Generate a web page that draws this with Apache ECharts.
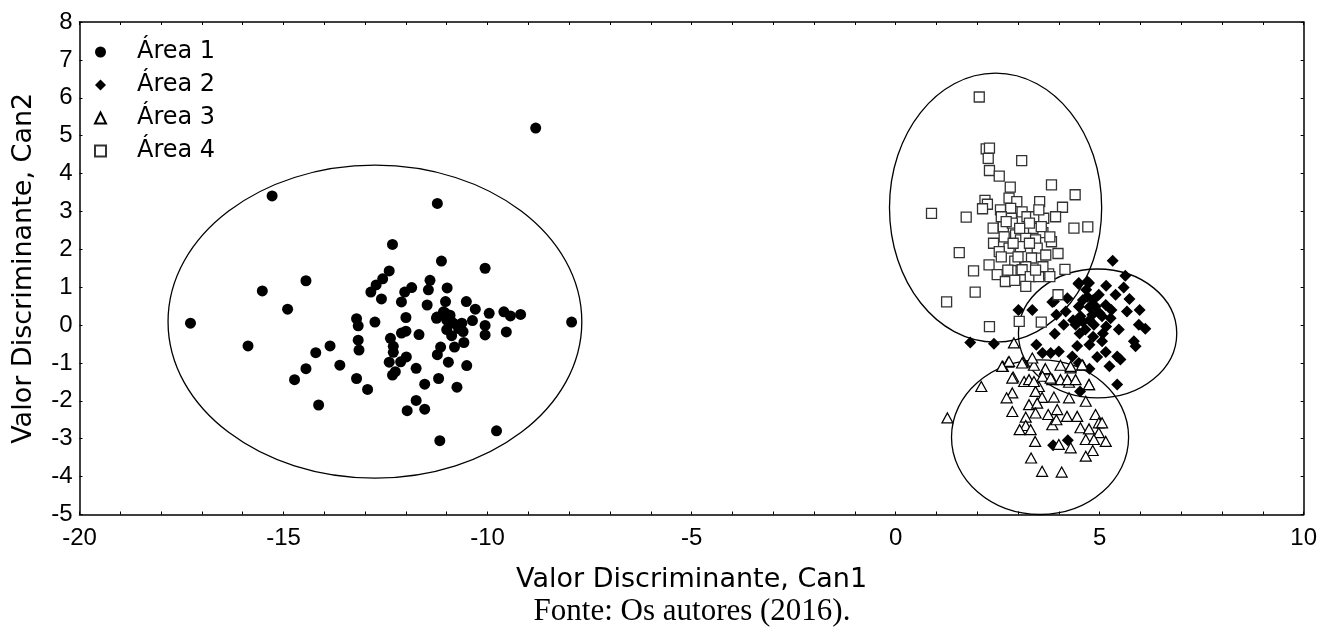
<!DOCTYPE html>
<html>
<head>
<meta charset="utf-8">
<script src="https://cdn.jsdelivr.net/npm/echarts@6/dist/echarts.min.js"></script>
<style>
html,body{margin:0;padding:0;background:#fff;}
#chart{width:1320px;height:631px;}
</style>
</head>
<body>
<div id="chart"></div>
<script>
// ---- Data ----
const seriesNames = ['Área 1', 'Área 2', 'Área 3', 'Área 4'];

const area1 = [
  [-15.28,3.41],[-11.23,3.21],[-12.33,2.13],[-11.13,1.69],[-10.06,1.50],[-14.45,1.17],[-15.52,0.90],
  [-12.41,1.43],[-12.57,1.22],[-12.73,1.06],[-12.86,0.87],[-12.60,0.69],[-11.41,1.18],[-11.45,0.93],
  [-10.99,0.98],[-11.86,0.99],[-12.03,0.87],[-12.11,0.61],[-11.48,0.53],[-11.03,0.62],[-10.52,0.62],
  [-10.30,0.42],[-9.96,0.31],[-9.60,0.35],[-9.44,0.24],[-9.19,0.28],[-7.94,0.08],[-17.28,0.05],
  [-14.90,0.42],[-15.87,-0.55],[-13.21,0.17],[-13.17,-0.02],[-12.76,0.08],[-12.00,0.20],[-11.25,0.18],
  [-11.04,0.32],[-10.92,0.16],[-11.00,-0.12],[-10.88,-0.28],[-10.68,-0.04],[-10.60,-0.17],[-10.37,0.12],
  [-10.06,-0.01],[-10.06,-0.26],[-9.54,-0.18],[-12.11,-0.21],[-12.00,-0.16],[-11.68,-0.25],[-13.17,-0.40],
  [-13.15,-0.66],[-12.38,-0.35],[-12.31,-0.56],[-12.31,-0.72],[-12.41,-0.98],[-12.13,-0.97],[-11.99,-0.84],
  [-11.75,-1.14],[-12.33,-1.32],[-12.26,-1.23],[-11.23,-0.78],[-11.15,-0.58],[-10.81,-0.58],[-10.58,-0.46],
  [-10.96,-0.98],[-10.51,-1.07],[-11.20,-1.41],[-11.54,-1.56],[-10.75,-1.64],[-13.86,-0.55],[-14.21,-0.73],
  [-13.62,-1.06],[-14.45,-1.15],[-14.73,-1.44],[-13.21,-1.41],[-12.94,-1.70],[-14.14,-2.11],[-11.75,-1.99],
  [-11.97,-2.26],[-11.54,-2.22],[-9.78,-2.79],[-11.17,-3.05],[-8.82,5.20],
  [-11.24,0.21],[-11.08,0.35],[-11.00,0.13],[-10.92,0.26],[-10.84,0.05],[-10.71,-0.09],[-10.63,0.05]
];

const area2 = [
  [5.32,1.70],[5.63,1.30],[4.48,1.09],[4.70,1.15],[5.16,1.04],[5.59,0.99],[4.70,0.75],[4.98,0.80],
  [5.39,0.80],[5.73,0.69],[3.84,0.61],[4.21,0.71],[4.49,0.49],[4.90,0.49],[5.15,0.53],[3.35,0.40],
  [3.01,0.40],[3.94,0.27],[4.17,0.36],[4.53,0.23],[4.82,0.27],[5.06,0.23],[5.27,0.18],[5.67,0.36],
  [5.98,0.40],[4.12,0.01],[4.41,0.01],[4.65,-0.12],[4.86,0.01],[5.47,-0.12],[5.96,0.01],[6.12,-0.10],
  [3.90,-0.23],[2.41,-0.49],[3.45,-0.52],[4.45,-0.55],[4.75,-0.52],[5.06,-0.43],[5.84,-0.43],[5.88,-0.56],
  [3.60,-0.74],[3.80,-0.74],[4.00,-0.70],[4.33,-0.83],[4.94,-0.84],[5.15,-0.71],[5.43,-0.83],[5.51,-0.91],
  [4.49,-1.00],[4.75,-1.15],[5.24,-1.09],[5.43,-1.57],
  [4.67,0.93],[4.59,0.66],[4.84,0.66],[4.75,0.48],[5.00,0.31],[4.35,0.13],[4.59,0.09],[4.75,0.13],
  [4.51,-0.22],[4.84,-0.31],[5.08,-0.22],[5.16,-0.04],[5.29,0.40],
  [3.88,0.62],[4.49,1.11],[4.74,1.11],[1.83,-0.46],[3.86,-3.17],[4.22,-3.04],[4.52,-1.75]
];

const area3 = [
  [2.90,-0.47],[1.27,-2.45],[2.10,-1.62],[2.63,-1.09],[2.76,-0.98],[3.12,-0.98],[3.39,-1.06],[3.66,-1.18],
  [4.04,-1.06],[4.29,-1.13],[4.59,-1.06],[2.88,-1.37],[3.15,-1.49],[3.27,-1.44],[2.86,-1.79],[2.72,-1.92],
  [3.51,-1.62],[3.43,-1.75],[3.84,-1.44],[4.04,-1.44],[4.25,-1.51],[4.74,-1.57],[3.59,-1.91],[3.88,-1.90],
  [4.25,-1.92],[4.66,-2.01],[3.27,-2.10],[3.47,-2.06],[2.86,-2.28],[3.43,-2.32],[3.74,-2.36],[3.96,-2.23],
  [4.20,-2.41],[4.45,-2.41],[3.19,-2.43],[4.90,-2.36],[4.98,-2.58],[5.06,-2.58],[3.84,-2.63],[3.94,-2.50],
  [3.19,-2.65],[3.04,-2.76],[3.31,-2.76],[4.53,-2.71],[4.74,-2.74],[4.98,-2.84],[3.42,-3.07],[4.00,-3.15],
  [4.29,-3.24],[4.66,-3.02],[4.86,-3.02],[5.15,-3.07],[4.83,-3.31],[4.66,-3.46],[3.32,-3.51],[3.59,-3.86],
  [4.07,-3.88],
  [2.78,-0.96],[2.61,-1.09],[3.10,-1.00],[3.35,-0.87],[3.67,-1.15],[4.29,-1.09],[4.57,-1.05],[4.74,-1.57],
  [2.86,-1.40],[3.39,-1.49],[3.60,-1.35],[3.80,-1.40],[4.21,-1.44],[4.41,-1.44]
];

const area4 = [
  [2.05,6.02],[2.22,4.65],[2.30,4.67],[2.27,4.40],[2.30,4.08],[2.54,3.93],[3.09,4.34],[2.81,3.64],
  [3.82,3.70],[4.40,3.44],[2.19,3.29],[2.25,3.19],[2.13,3.07],[2.78,3.35],[2.97,3.26],[3.53,3.26],
  [4.09,3.11],[0.88,2.95],[1.73,2.85],[2.57,3.04],[2.82,3.08],[2.84,2.82],[3.10,2.99],[3.22,2.86],
  [3.43,2.86],[3.63,2.82],[3.92,2.86],[3.51,3.04],[4.37,2.56],[4.71,2.59],[2.39,2.56],[2.64,2.60],
  [2.86,2.69],[3.38,2.55],[3.61,2.44],[2.66,2.33],[2.94,2.38],[3.06,2.25],[3.19,2.29],[3.43,2.25],
  [3.82,2.20],[2.40,2.16],[2.78,2.03],[2.54,1.94],[3.06,2.07],[3.47,2.03],[3.68,1.85],[3.98,1.89],
  [1.56,1.91],[2.92,1.69],[3.33,1.77],[3.19,1.54],[2.29,1.59],[1.91,1.43],[2.49,1.33],[2.83,1.44],
  [3.10,1.46],[3.30,1.28],[3.51,1.28],[3.75,1.35],[4.15,1.47],[2.69,1.15],[2.92,1.18],[3.19,1.02],
  [1.95,0.87],[1.25,0.61],[3.98,0.80],[2.30,-0.04],[3.03,0.10],[3.57,0.08],
  [2.59,2.86],[2.71,2.73],[3.28,2.69],[3.04,2.55],[3.57,2.60],[3.78,2.33],[3.28,2.16],[2.88,2.16],
  [2.59,1.80],[3.00,1.80],[3.61,1.54],[2.75,1.45],[3.43,1.45],[3.78,1.28]
];

// confidence ellipses: [centerX, centerY, radiusX, radiusY] in data units
const ellipses = [
  [-12.76, 0.09, 5.07, 4.13],
  [4.95, -0.22, 1.94, 1.70],
  [3.54, -2.96, 2.17, 2.04],
  [2.45, 3.10, 2.60, 3.55]
];

const xTitle = 'Valor Discriminante, Can1';
const yTitle = 'Valor Discriminante, Can2';
const caption = 'Fonte: Os autores (2016).';

// ---- Chart ----
const chart = echarts.init(document.getElementById('chart'), null, {renderer: 'canvas'});
const labelFont = {fontFamily: 'Liberation Sans', fontSize: 24, color: '#000'};
const lineStyle = {color: '#000', width: 1.5};

function axisCommon(extra) {
  return Object.assign({
    type: 'value',
    axisLine: {show: true, onZero: false, lineStyle: lineStyle},
    axisTick: {show: true, inside: true, length: 3, lineStyle: {color: '#000', width: 1}},
    minorTick: {show: true, splitNumber: 5, length: 3, lineStyle: {color: '#000', width: 1}},
    splitLine: {show: false},
    minorSplitLine: {show: false}
  }, extra);
}

const option = {
  animation: false,
  backgroundColor: '#fff',
  grid: {left: 79.5, right: 16, top: 22, bottom: 116.5, containLabel: false},
  xAxis: [
    axisCommon({
      min: -20, max: 10, interval: 5, position: 'bottom',
      axisLabel: Object.assign({margin: 12}, labelFont),
      name: xTitle, nameLocation: 'middle', nameGap: 52,
      nameTextStyle: {fontFamily: 'DejaVu Sans', fontSize: 27, color: '#000'}
    }),
    axisCommon({
      min: -20, max: 10, interval: 5, position: 'top',
      axisLabel: {show: false}
    })
  ],
  yAxis: [
    axisCommon({
      min: -5, max: 8, interval: 1, position: 'left',
      minorTick: {show: false},
      axisLabel: Object.assign({margin: 7}, labelFont),
      name: yTitle, nameLocation: 'middle', nameGap: 42,
      nameTextStyle: {fontFamily: 'DejaVu Sans', fontSize: 27, color: '#000'}
    }),
    axisCommon({
      min: -5, max: 8, interval: 1, position: 'right',
      minorTick: {show: false},
      axisLabel: {show: false}
    })
  ],
  legend: {
    orient: 'vertical', left: 89, top: 35,
    itemWidth: 11, itemHeight: 11, itemGap: 9,
    selectedMode: false,
    textStyle: {fontFamily: 'DejaVu Sans', fontSize: 24, color: '#000', lineHeight: 24, padding: [0, 0, 0, 26]},
    data: seriesNames
  },
  graphic: [{
    type: 'text', x: 692, y: 612,
    style: {text: caption, font: '31px "Liberation Serif"', fill: '#000', textAlign: 'center', textVerticalAlign: 'middle'}
  }],
  series: [
    {
      type: 'custom', name: 'ellipses', silent: true, clip: false,
      data: ellipses, encode: {x: 0, y: 1},
      renderItem: function (params, api) {
        const c = api.coord([api.value(0), api.value(1)]);
        const s = api.size([api.value(2), api.value(3)]);
        return {
          type: 'ellipse',
          shape: {cx: c[0], cy: c[1], rx: s[0], ry: s[1]},
          style: {fill: 'none', stroke: '#000', lineWidth: 1.3}
        };
      },
      z: 1
    },
    {
      type: 'scatter', name: seriesNames[0], data: area1,
      symbol: 'circle', symbolSize: 11,
      itemStyle: {color: '#000', opacity: 1}, z: 2
    },
    {
      type: 'scatter', name: seriesNames[1], data: area2,
      symbol: 'diamond', symbolSize: 12,
      itemStyle: {color: '#000', opacity: 1}, z: 2
    },
    {
      type: 'scatter', name: seriesNames[2], data: area3,
      symbol: 'triangle', symbolSize: [11, 10],
      itemStyle: {color: '#fff', borderColor: '#000', borderWidth: 1.2, opacity: 1}, z: 2
    },
    {
      type: 'scatter', name: seriesNames[3], data: area4,
      symbol: 'rect', symbolSize: 10,
      itemStyle: {color: '#fff', borderColor: '#333', borderWidth: 1.3, opacity: 1}, z: 2
    }
  ]
};
chart.setOption(option);
</script>
</body>
</html>
